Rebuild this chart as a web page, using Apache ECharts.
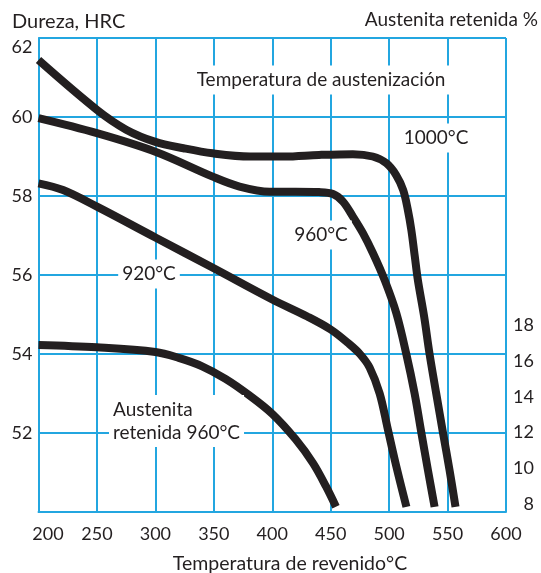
<!DOCTYPE html>
<html>
<head>
<meta charset="utf-8">
<script src="https://cdn.jsdelivr.net/npm/echarts@6/dist/echarts.min.js"></script>
<style>
html,body{margin:0;padding:0;background:#fff;}
#chart{width:541px;height:573px;}
</style>
</head>
<body>
<div id="chart"></div>
<script>
// Tempering temperature (°C) vs hardness (HRC) for each austenitizing temperature
const temps1000 = [200, 250, 275, 300, 324, 349, 381, 410, 440, 469, 486, 497.6, 506, 512, 516, 519, 522, 524.6, 530, 534.6, 540.3, 546, 551.7, 556.8];
const hrc1000   = [61.44, 60.18, 59.68, 59.37, 59.21, 59.08, 59.0, 59.0, 59.04, 59.06, 59.0, 58.83, 58.53, 58.15, 57.65, 57.14, 56.46, 55.87, 54.94, 54.0, 53.0, 52.02, 51.06, 50.13];

const temps960 = [200, 250, 300, 349, 372, 398, 420, 440, 452, 460.5, 469, 477.6, 486.2, 496.2, 506.2, 514.7, 521.8, 527.5, 533.2, 538.9];
const hrc960   = [59.97, 59.59, 59.12, 58.49, 58.24, 58.11, 58.11, 58.1, 58.05, 57.86, 57.48, 57.06, 56.55, 55.87, 55.03, 54.0, 53.0, 52.02, 51.06, 50.13];

const temps920 = [200, 221, 250, 300, 350, 400, 430, 450, 466, 475, 483.3, 491.9, 499, 506.2, 514.8];
const hrc920   = [58.32, 58.15, 57.73, 56.95, 56.17, 55.38, 54.95, 54.62, 54.25, 54.0, 53.66, 53.0, 52.08, 51.15, 50.13];

// Retained austenite (%) for 960 °C austenitizing
const tempsRA = [200, 250, 300, 320, 340, 360, 380, 400, 420, 435, 446, 454.5];
const pctRA   = [16.89, 16.76, 16.5, 16.17, 15.7, 15.0, 14.1, 13.05, 11.63, 10.29, 9.0, 7.87];

const xTicks = [200, 250, 300, 350, 400, 450, 500, 550, 600];
const hrcTicks = [52, 54, 56, 58, 60, 62];
const raTicks = [8, 10, 12, 14, 16, 18];

const zip = (xs, ys) => xs.map((x, i) => [x, ys[i]]);

const BLUE = '#23a6e0';
const INK = '#231f20';
const FONT = 'Lato';

const chart = echarts.init(document.getElementById('chart'), null, {renderer: 'canvas'});

const lineSeries = (name, data, xi, yi) => ({
  name, type: 'line', data, xAxisIndex: xi, yAxisIndex: yi,
  smooth: 0.35, showSymbol: false, symbol: 'none', clip: false,
  lineStyle: {color: INK, width: 8, cap: 'butt', join: 'round'},
  z: 3
});

const txt = (text, x, y, align, vAlign, bg, size) => ({
  type: 'text', z: 10, silent: true,
  style: {
    text, x, y, textAlign: align, textVerticalAlign: vAlign,
    font: (size || 19) + 'px ' + FONT, fill: INK, lineHeight: 23,
    backgroundColor: bg ? '#fff' : null, padding: bg ? [3, 4] : 0
  }
});

chart.setOption({
  animation: false,
  grid: [
    {left: 38.5, right: 35, top: 38, bottom: 61},
    {left: 38.5, right: 35, top: 38, bottom: 32.7}
  ],
  xAxis: [
    {
      type: 'value', gridIndex: 0, min: 200, max: 600, interval: 50,
      axisLine: {show: true, lineStyle: {color: BLUE, width: 2}},
      axisTick: {show: false},
      splitLine: {show: true, lineStyle: {color: BLUE, width: 2}},
      axisLabel: {
        color: INK, fontFamily: FONT, fontSize: 18, margin: 13,
        formatter: v => xTicks.includes(v) ? (v === 200 ? '{a|200}' : String(v)) : '',
        rich: {a: {fontFamily: FONT, fontSize: 18, color: INK, padding: [0, 0, 0, 19]}}
      }
    },
    {type: 'value', gridIndex: 1, min: 200, max: 600, interval: 50, show: false}
  ],
  yAxis: [
    {
      type: 'value', gridIndex: 0, min: 50, max: 62, interval: 2,
      axisLine: {show: true, lineStyle: {color: BLUE, width: 2}},
      axisTick: {show: false},
      splitLine: {show: true, lineStyle: {color: BLUE, width: 2}},
      axisLabel: {
        color: INK, fontFamily: FONT, fontSize: 18, margin: 6,
        verticalAlignMaxLabel: 'top',
        formatter: v => hrcTicks.includes(v) ? String(v) : ''
      }
    },
    {
      type: 'value', gridIndex: 1, position: 'right', min: 6, max: 34, interval: 2,
      axisLine: {show: false}, axisTick: {show: false}, splitLine: {show: false},
      axisLabel: {
        color: INK, fontFamily: FONT, fontSize: 18, margin: 28, align: 'right',
        formatter: v => raTicks.includes(v) ? String(v) : ''
      }
    }
  ],
  series: [
    lineSeries('1000°C', zip(temps1000, hrc1000), 0, 0),
    lineSeries('960°C', zip(temps960, hrc960), 0, 0),
    lineSeries('920°C', zip(temps920, hrc920), 0, 0),
    lineSeries('Austenita retenida 960°C', zip(tempsRA, pctRA), 1, 1)
  ],
  graphic: [
    txt('Dureza, HRC', 12, 22, 'left', 'middle', false, 20),
    txt('Austenita retenida %', 538, 20, 'right', 'middle', false),
    txt('Temperatura de austenización', 321, 80, 'center', 'middle', true),
    txt('1000°C', 436, 138, 'center', 'middle', true),
    txt('960°C', 321, 235, 'center', 'middle', true),
    txt('920°C', 149, 274, 'center', 'middle', true),
    txt('Austenita\nretenida 960°C', 109, 421, 'left', 'middle', true),
    txt('Temperatura de revenido°C', 290, 564, 'center', 'middle', false, 19.5)
  ]
});
</script>
</body>
</html>
